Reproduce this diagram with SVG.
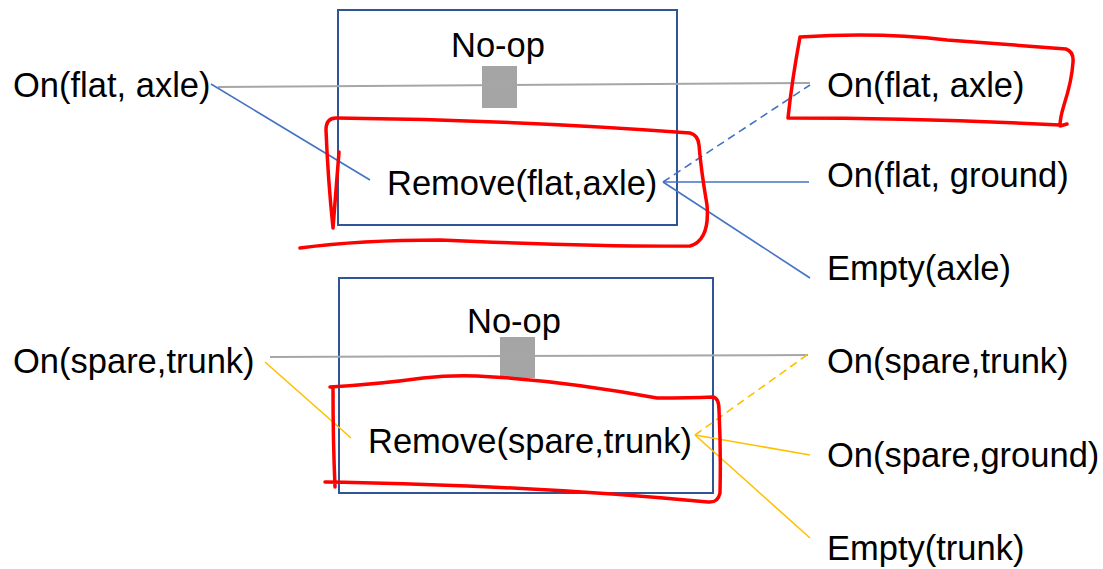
<svg xmlns="http://www.w3.org/2000/svg" width="1103" height="569" viewBox="0 0 1103 569">
<style>
text{font-family:"Liberation Sans",Arial,sans-serif;font-size:34.5px;fill:#000}
.box{fill:none;stroke:#2F5597;stroke-width:2}
.sq{fill:#A5A5A5}
.gray{stroke:#A6A6A6;stroke-width:2;fill:none}
.blue{stroke:#4472C4;stroke-width:1.6;fill:none}
.gold{stroke:#FFC000;stroke-width:1.6;fill:none}
.dash{stroke-dasharray:8 5}
.red{fill:none;stroke:#FF0000;stroke-width:3.5;stroke-linecap:round;stroke-linejoin:round}
</style>
<rect width="1103" height="569" fill="#fff"/>
<g id="action-top">
<rect class="box" x="338" y="10" width="339" height="215"/>
<text x="451" y="57">No-op</text>
<rect class="sq" x="482" y="66" width="35" height="42"/>
<text x="387" y="195">Remove(flat,axle)</text>
</g>
<g id="action-bottom">
<rect class="box" x="339" y="278" width="374" height="215"/>
<text x="467" y="333">No-op</text>
<rect class="sq" x="500" y="337" width="35" height="41"/>
<text x="368" y="453">Remove(spare,trunk)</text>
</g>
<g id="connectors">
<line class="gray" x1="218" y1="87" x2="810" y2="83"/>
<line class="blue" x1="211" y1="84" x2="370" y2="180"/>
<line class="blue dash" x1="663" y1="182" x2="810" y2="85"/>
<line class="blue" x1="663" y1="182" x2="809" y2="182"/>
<line class="blue" x1="663" y1="182" x2="810" y2="278"/>
<line class="gray" x1="270" y1="357" x2="808" y2="355"/>
<line class="gold" x1="265" y1="362" x2="351" y2="438"/>
<line class="gold dash" x1="695" y1="435" x2="807" y2="355"/>
<line class="gold" x1="695" y1="435" x2="810" y2="455"/>
<line class="gold" x1="695" y1="435" x2="810" y2="538"/>
</g>
<g id="left-states">
<text x="13" y="97">On(flat, axle)</text>
<text x="13" y="373">On(spare,trunk)</text>
</g>
<g id="right-states">
<text x="827" y="97">On(flat, axle)</text>
<text x="827" y="187">On(flat, ground)</text>
<text x="827" y="280">Empty(axle)</text>
<text x="827" y="373">On(spare,trunk)</text>
<text x="827" y="467">On(spare,ground)</text>
<text x="827" y="560">Empty(trunk)</text>
</g>
<g id="annotations">
<path class="red" d="M339,152 L333,228 Q328,180 326,130 Q326,118 336,118 Q520,120 690,133 Q698,135 699,145 Q701,170 707,205 Q710,240 690,246 Q600,247 440,240 Q360,240 300,248"/>
<path class="red" d="M800,37 Q880,32 947,40 Q1010,45 1066,49 Q1074,52 1073,62 Q1072,80 1064,105 Q1060,118 1060,126 L1067,124 M800,37 Q792,80 788,118 Q920,118 1060,125"/>
<path class="red" d="M330,387 Q380,384 423,378 Q450,375 477,376 Q560,380 657,398 Q690,398 713,397 Q719,398 719,410 Q721,450 720,493 Q718,503 708,502 Q600,492 490,487 Q400,483 325,482 M333,388 Q333,440 335,487"/>
</g>
</svg>
